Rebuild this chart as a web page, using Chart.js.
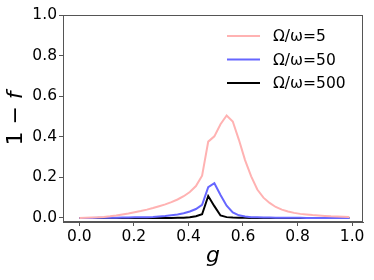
<!DOCTYPE html>
<html>
<head>
<meta charset="utf-8">
<script src="https://cdn.jsdelivr.net/npm/chart.js@4.4.0/dist/chart.umd.min.js"></script>
<style>
  html, body { margin: 0; padding: 0; background: #fff; }
  #wrap { width: 374px; height: 280px; }
</style>
</head>
<body>
<div id="wrap"><canvas id="myChart" width="374" height="280"></canvas></div>
<script>
// valores de g (eje x)
var gVals = [0, 0.0225, 0.045, 0.0675, 0.09, 0.1125, 0.135, 0.1575, 0.18, 0.2025,
  0.225, 0.2475, 0.27, 0.2925, 0.315, 0.3375, 0.36, 0.3825, 0.405, 0.4275,
  0.45, 0.4725, 0.495, 0.5175, 0.54, 0.5625, 0.585, 0.6075, 0.63, 0.6525,
  0.675, 0.6975, 0.72, 0.7425, 0.765, 0.7875, 0.81, 0.8325, 0.855, 0.8775,
  0.9, 0.9225, 0.945, 0.9675, 0.99];

// 1 - f para cada Omega/omega
var serie5 = [0.000, 0.001, 0.002, 0.003, 0.005, 0.008, 0.012, 0.017, 0.022, 0.028,
  0.034, 0.041, 0.049, 0.058, 0.067, 0.078, 0.091, 0.107, 0.128, 0.157,
  0.208, 0.376, 0.402, 0.462, 0.505, 0.475, 0.385, 0.285, 0.205, 0.140,
  0.100, 0.074, 0.054, 0.041, 0.032, 0.025, 0.020, 0.017, 0.014, 0.012,
  0.010, 0.008, 0.007, 0.006, 0.005];
var serie50 = [0.000, 0.000, 0.000, 0.001, 0.001, 0.001, 0.001, 0.002, 0.002, 0.003,
  0.003, 0.004, 0.005, 0.007, 0.009, 0.013, 0.017, 0.023, 0.032, 0.044,
  0.065, 0.152, 0.171, 0.113, 0.060, 0.027, 0.013, 0.007, 0.004, 0.003,
  0.002, 0.002, 0.001, 0.001, 0.001, 0.001, 0.001, 0.000, 0.000, 0.000,
  0.000, 0.000, 0.000, 0.000, 0.000];
var serie500 = [0, 0, 0, 0, 0, 0, 0, 0, 0, 0,
  0, 0, 0, 0, 0, 0, 0.001, 0.001, 0.003, 0.008,
  0.018, 0.108, 0.058, 0.012, 0.004, 0.002, 0.001, 0.001, 0, 0,
  0, 0, 0, 0, 0, 0, 0, 0, 0, 0,
  0, 0, 0, 0, 0];

var etiquetas = ["\u03A9/\u03C9=5", "\u03A9/\u03C9=50", "\u03A9/\u03C9=500"];
var colores = ["rgb(255,178,178)", "rgb(102,102,255)", "rgb(0,0,0)"];
var xTicks = [0, 0.2, 0.4, 0.6, 0.8, 1.0];
var yTicks = [0, 0.2, 0.4, 0.6, 0.8, 1.0];

var fuente = "'DejaVu Sans', sans-serif";

function puntos(serie) {
  return gVals.map(function (g, i) { return { x: g, y: serie[i] }; });
}

// marco, leyenda y titulos de ejes estilo matplotlib
var extras = {
  id: "extras",
  afterDraw: function (chart) {
    var ctx = chart.ctx;
    var a = chart.chartArea;
    ctx.save();
    ctx.strokeStyle = "#555";
    ctx.lineWidth = 1;
    ctx.strokeRect(a.left + 0.5, a.top + 0.5, a.right - a.left - 1, a.bottom - a.top - 1);

    // leyenda
    ctx.font = "15.5px " + fuente;
    ctx.textBaseline = "middle";
    ctx.textAlign = "left";
    chart.data.datasets.forEach(function (ds, i) {
      var y = 36 + i * 23.5;
      ctx.strokeStyle = ds.borderColor;
      ctx.lineWidth = 2;
      ctx.beginPath();
      ctx.moveTo(227, y);
      ctx.lineTo(260, y);
      ctx.stroke();
      ctx.fillStyle = "#000";
      ctx.fillText(ds.label, 273, y + 1);
    });

    // titulo eje x
    ctx.font = "italic 22px " + fuente;
    ctx.textAlign = "center";
    ctx.fillText("g", (a.left + a.right) / 2, 256);

    // titulo eje y
    ctx.translate(16, (a.top + a.bottom) / 2);
    ctx.rotate(-Math.PI / 2);
    var t1 = "1 \u2212 ";
    ctx.font = "22px " + fuente;
    var w1 = ctx.measureText(t1).width;
    ctx.font = "italic 22px " + fuente;
    var w2 = ctx.measureText("f").width;
    var x0 = -(w1 + w2) / 2;
    ctx.textAlign = "left";
    ctx.font = "22px " + fuente;
    ctx.fillText(t1, x0, 0);
    ctx.font = "italic 22px " + fuente;
    ctx.fillText("f", x0 + w1, 0);
    ctx.restore();
  }
};

const config = {
  type: "line",
  data: {
    datasets: [
      { label: etiquetas[0], data: puntos(serie5), borderColor: colores[0] },
      { label: etiquetas[1], data: puntos(serie50), borderColor: colores[1] },
      { label: etiquetas[2], data: puntos(serie500), borderColor: colores[2] }
    ]
  },
  options: {
    responsive: false,
    animation: false,
    layout: { padding: { top: 15, right: 11, left: 0, bottom: 0 } },
    elements: {
      point: { radius: 0 },
      line: { borderWidth: 2, tension: 0, fill: false }
    },
    plugins: { legend: { display: false }, tooltip: { enabled: false } },
    scales: {
      x: {
        type: "linear",
        min: -0.06,
        max: 1.04,
        afterBuildTicks: function (axis) {
          axis.ticks = xTicks.map(function (v) { return { value: v }; });
        },
        afterFit: function (scale) { scale.height = 58; },
        grid: { display: true, drawOnChartArea: false, tickLength: 4, color: "#555" },
        border: { display: true, color: "#555" },
        ticks: {
          color: "#000",
          padding: 2,
          maxRotation: 0,
          font: { family: fuente, size: 15.5 },
          callback: function (v) { return v.toFixed(1); }
        }
      },
      y: {
        type: "linear",
        min: -0.02,
        max: 1.0,
        afterBuildTicks: function (axis) {
          axis.ticks = yTicks.map(function (v) { return { value: v }; });
        },
        afterFit: function (scale) { scale.width = 63; },
        grid: { display: true, drawOnChartArea: false, tickLength: 4, color: "#555" },
        border: { display: true, color: "#555" },
        ticks: {
          color: "#000",
          padding: 2,
          font: { family: fuente, size: 15.5 },
          callback: function (v) { return v.toFixed(1); }
        }
      }
    }
  },
  plugins: [extras]
};

const myChart = new Chart(document.getElementById("myChart"), config);
</script>
</body>
</html>
